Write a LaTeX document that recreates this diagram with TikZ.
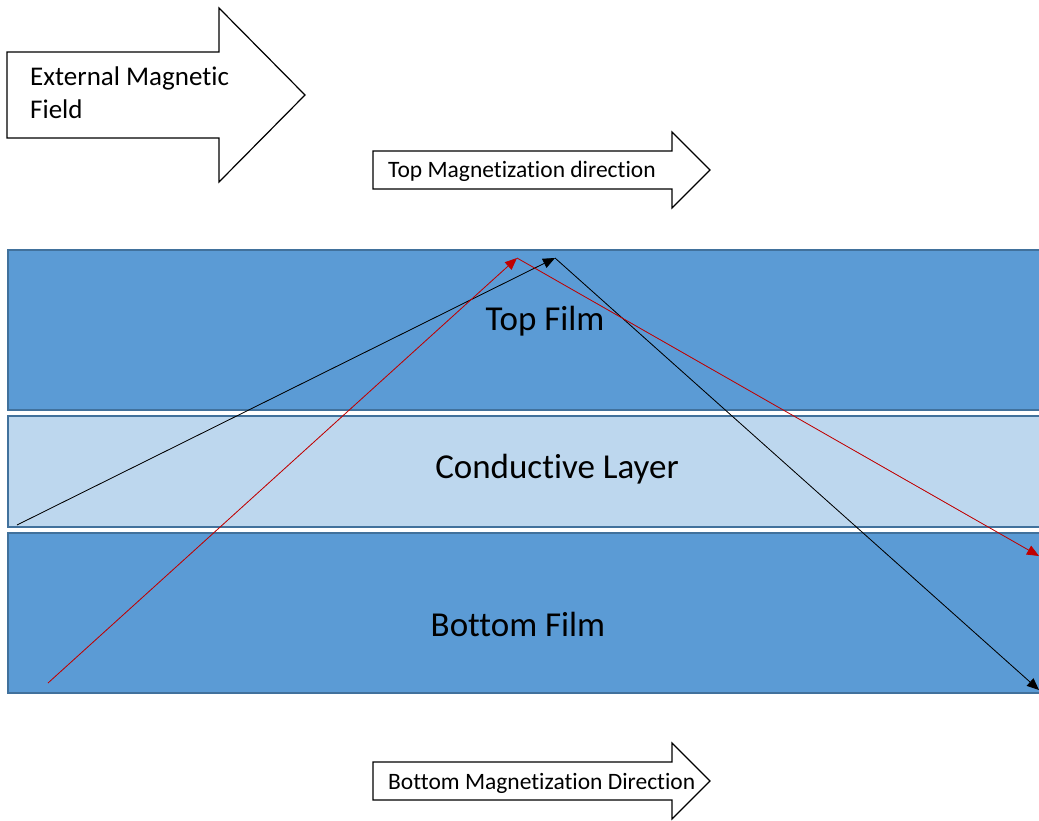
\documentclass[tikz,border=0pt]{standalone}
\usepackage{fontspec}
\setmainfont[Ligatures=NoCommon]{Carlito}
\usetikzlibrary{arrows.meta}
\definecolor{filmblue}{HTML}{5B9BD5}
\definecolor{condblue}{HTML}{BDD7EE}
\definecolor{edgeblue}{HTML}{41719C}
\definecolor{rayred}{HTML}{C00000}
\tikzset{
  blockarrow/.style={draw=black, line width=1.2pt, fill=white, line join=miter},
  layer/.style={draw=edgeblue, line width=1.6pt, inner sep=0pt, anchor=north west},
  layerlabel/.style={font=\fontsize{35}{42}\selectfont, text=black},
  smalltext/.style={font=\fontsize{23.5}{28}\selectfont, anchor=base west, inner sep=0pt},
  ray/.style={line width=0.8pt, -{Triangle[length=12pt,width=10pt]}},
}
\begin{document}
\begin{tikzpicture}[x=1pt,y=-1pt]
\useasboundingbox (0,0) rectangle (1039,820);
% External magnetic field arrow
\draw[blockarrow] (7,52) -- (219,52) -- (219,8) -- (305,95) -- (219,182) -- (219,138) -- (7,138) -- cycle;
\node[smalltext, font=\fontsize{27}{33}\selectfont, align=left, anchor=north west] (ext) at (30,67) {External Magnetic\\Field};
% Top magnetization arrow
\draw[blockarrow] (373,151) -- (672,151) -- (672,132) -- (710,170) -- (672,208) -- (672,189) -- (373,189) -- cycle;
\node[smalltext] (topmag) at (388,177) {Top Magnetization direction};
% Bottom magnetization arrow
\draw[blockarrow] (373,762) -- (672,762) -- (672,743) -- (710,781) -- (672,819) -- (672,800) -- (373,800) -- cycle;
\node[smalltext] (botmag) at (388,789) {Bottom Magnetization Direction};
% Layers
\node[layer, fill=filmblue, minimum width=1040pt, minimum height=160pt] (top) at (7,249) {};
\node[layer, fill=condblue, minimum width=1040pt, minimum height=111pt] (cond) at (7,415) {};
\node[layer, fill=filmblue, minimum width=1040pt, minimum height=160pt] (bot) at (7,532) {};
\node[layerlabel] (toplab) at (545,321) {Top Film};
\node[layerlabel] (condlab) at (557,469) {Conductive Layer};
\node[layerlabel] (botlab) at (518,624) {Bottom Film};
% Rays
\coordinate (b0) at (17,525);
\coordinate (b1) at (555,258);
\coordinate (b2) at (1039,690);
\coordinate (r0) at (48,683);
\coordinate (r1) at (517,258);
\coordinate (r2) at (1039,556);
\draw[ray, draw=black, fill=black] (b0) -- (b1);
\draw[ray, draw=black, fill=black] (b1) -- (b2);
\draw[ray, draw=rayred, fill=rayred] (r0) -- (r1);
\draw[ray, draw=rayred, fill=rayred] (r1) -- (r2);
\end{tikzpicture}
\end{document}
